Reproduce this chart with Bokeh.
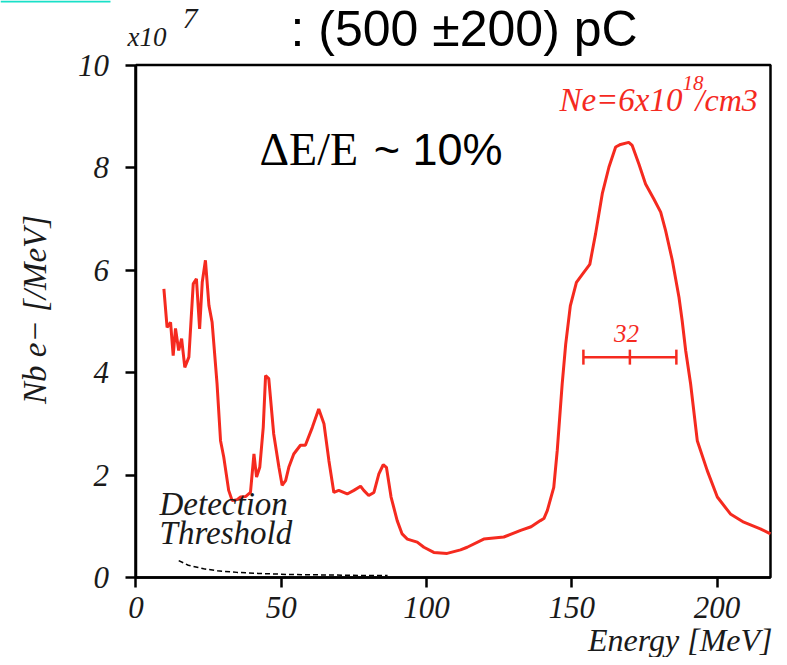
import numpy as np
from bokeh.plotting import figure
from bokeh.models import Label, FixedTicker, Range1d, BoxAnnotation
from bokeh.embed import file_html
from bokeh.resources import INLINE

# ---- data ----
energy = [9.6, 10.7, 11.9, 12.8, 13.6, 14.7, 15.7, 16.8, 18.2, 19.7, 20.8, 21.9, 22.8, 23.9,
          25.1, 26.2, 27.9, 29.1, 30.2, 31.9, 33.1, 34.8, 36.0, 37.7, 39.4, 40.6, 41.5, 42.6,
          43.8, 44.6, 45.7, 47.4, 49.2, 50.3, 51.5, 52.6, 54.3, 56.6, 58.3, 60.7, 62.9, 64.7,
          66.4, 68.1, 69.8, 72.7, 75.0, 77.3, 78.4, 80.1, 81.9, 83.6, 85.1, 86.2, 87.8, 89.9,
          91.6, 93.4, 96.8, 99.1, 102.5, 107.1, 111.7, 114.0, 119.7, 126.6, 132.4, 136.0,
          139.2, 140.4, 141.6, 143.8, 145.0, 146.7, 147.9, 149.5, 151.6, 154.2, 156.2, 158.2,
          160.5, 162.8, 165.1, 166.8, 169.6, 170.8, 173.1, 175.4, 178.2, 180.6, 182.3, 184.6,
          186.9, 188.0, 189.2, 190.9, 193.2, 196.6, 200.1, 204.6, 209.2, 214.9, 218.4]
counts = [5.63, 4.88, 4.98, 4.33, 4.86, 4.43, 4.66, 4.10, 4.30, 5.73, 5.83, 4.85, 5.76, 6.19,
          5.31, 4.98, 3.78, 2.67, 2.35, 1.70, 1.50, 1.52, 1.57, 1.58, 1.66, 2.41, 1.96, 2.15,
          2.93, 3.94, 3.88, 2.80, 2.15, 1.80, 1.89, 2.15, 2.41, 2.58, 2.58, 2.93, 3.29, 3.00,
          2.28, 1.66, 1.70, 1.63, 1.70, 1.78, 1.70, 1.60, 1.66, 2.02, 2.20, 2.15, 1.57, 1.11,
          0.85, 0.75, 0.69, 0.59, 0.49, 0.47, 0.54, 0.59, 0.75, 0.79, 0.92, 0.99,
          1.11, 1.15, 1.31, 1.76, 2.48, 3.78, 4.55, 5.30, 5.76, 5.96, 6.11, 6.71,
          7.49, 8.01, 8.40, 8.45, 8.49, 8.43, 8.07, 7.68, 7.39, 7.13, 6.77, 6.19,
          5.47, 5.01, 4.43, 3.78, 2.67, 2.09, 1.57, 1.24, 1.08, 0.95, 0.85]

thr_energy = [14.7, 18.0, 23.3, 28.0, 34.8, 42.0, 52.0, 65.0, 78.0, 86.6]
thr_counts = [0.33, 0.24, 0.17, 0.13, 0.10, 0.08, 0.06, 0.05, 0.04, 0.04]

peak_center = 170.0
peak_fwhm = 32.0
peak_level = 4.3

x_ticks = [0, 50, 100, 150, 200]
y_ticks = [0, 2, 4, 6, 8, 10]
x_max = 218.4      # right edge of the plotted box (MeV)
y_max = 10         # top of the plotted box (x10^7 /MeV)

RED = "#f52a1f"
SERIF = "Liberation Serif"
SANS = "Liberation Sans"

# The frame spans the whole canvas; the axes are pinned at 0 with fixed_location
# so that the text around the box can be placed freely.
p = figure(width=779, height=657,
           x_range=Range1d(-46.64, 221.5), y_range=Range1d(-1.561, 11.259),
           output_backend="svg", toolbar_location=None, tools="")
p.min_border = 0
p.title.visible = False
p.xgrid.visible = False
p.ygrid.visible = False
p.outline_line_color = None
p.background_fill_color = "white"
p.border_fill_color = "white"

p.xaxis.ticker = FixedTicker(ticks=x_ticks)
p.yaxis.ticker = FixedTicker(ticks=y_ticks)
p.xaxis.fixed_location = 0
p.yaxis.fixed_location = 0
p.xaxis.bounds = (0, x_max)
p.yaxis.bounds = (0, y_max)
for ax in (p.xaxis[0], p.yaxis[0]):
    ax.axis_line_width = 2.5
    ax.axis_line_color = "black"
    ax.major_tick_out = 10
    ax.major_tick_in = 0
    ax.minor_tick_out = 0
    ax.minor_tick_in = 0
    ax.major_tick_line_width = 2.5
    ax.major_label_text_font = SERIF
    ax.major_label_text_font_style = "italic"
    ax.major_label_text_font_size = "31px"
    ax.major_label_text_color = "#1a1a1a"
p.xaxis.major_label_standoff = 9
p.yaxis.major_label_standoff = 17

# box around the plot
p.quad(left=[0], right=[x_max], bottom=[0], top=[y_max], fill_color=None,
       line_color="black", line_width=2.5)

# spectrum
p.line(energy, counts, line_color=RED, line_width=3)

# detection threshold
p.line(thr_energy, thr_counts, line_color="black", line_width=1.5, line_dash="5 3")

# FWHM bar
lo = peak_center - peak_fwhm / 2
hi = peak_center + peak_fwhm / 2
p.segment(x0=[lo], y0=[peak_level], x1=[hi], y1=[peak_level], line_color=RED, line_width=2.5)
p.scatter(x=[lo, peak_center, hi], y=[peak_level] * 3, marker="dash", angle=np.pi / 2,
          size=15, line_color=RED, line_width=2.5)


def lab(x, y, text, font=SERIF, size="31px", style="italic", color="#1a1a1a",
        align="left", baseline="alphabetic", angle=0):
    p.add_layout(Label(x=x, y=y, text=text, text_font=font, text_font_size=size,
                       text_font_style=style, text_color=color, text_align=align,
                       text_baseline=baseline, angle=angle))


lab(168.8, 4.76, str(int(peak_fwhm)), size="25px", color=RED, align="center")
lab(188.1, 9.32, "Ne=6x10", size="33px", color=RED, align="right")
lab(188.1, 9.64, "18", size="21px", color=RED)
lab(192.6, 9.32, "/cm3", size="32px", color=RED)

lab(8.1, 1.44, "Detection", size="33px")
lab(8.1, 0.86, "Threshold", size="33px")

lab(-2.9, 10.54, "x10", size="27px")
lab(16.0, 10.90, "7", size="30px")

lab(-34.6, 5.23, "Nb e\u2212 [/MeV]", size="33px", align="center", baseline="middle",
    angle=np.pi / 2)
lab(219.1, -1.22, "Energy [MeV]", size="32px", align="right")

lab(42.5, 8.35, "\u0394E/E", font=SERIF, size="46px", style="normal", color="black")
lab(81.8, 8.35, "~ 10%", font=SANS, size="45px", style="normal", color="black")

lab(53.2, 10.70, ": (500 \u00b1200) pC", font=SANS, size="50px", style="normal", color="black")

p.add_layout(BoxAnnotation(left=-46.64, right=-8.78, top=11.259, bottom=11.22,
                           fill_color="#19e0c8", fill_alpha=1.0, line_alpha=0))

open("out.html", "w").write(file_html(p, INLINE))
